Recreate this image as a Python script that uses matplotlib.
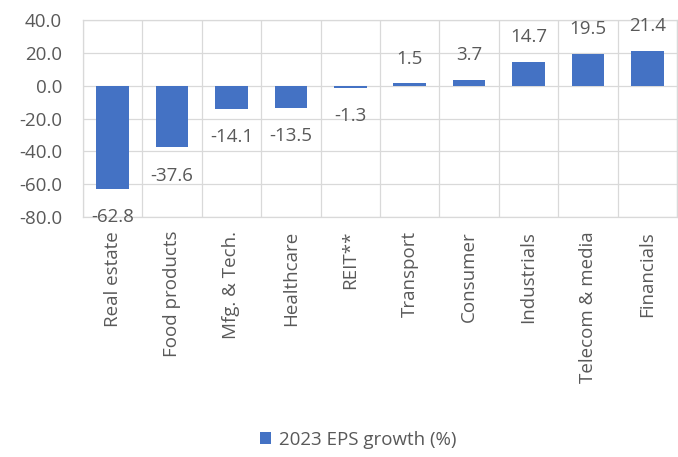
import matplotlib
matplotlib.use("Agg")
import matplotlib.pyplot as plt
import numpy as np

plt.rcParams["font.family"] = ["Open Sans", "DejaVu Sans"]

sectors = ["Real estate", "Food products", "Mfg. & Tech.", "Healthcare", "REIT**",
           "Transport", "Consumer", "Industrials", "Telecom & media", "Financials"]
eps_growth = [-62.8, -37.6, -14.1, -13.5, -1.3, 1.5, 3.7, 14.7, 19.5, 21.4]
y_ticks = [-80, -60, -40, -20, 0, 20, 40]
series_name = "2023 EPS growth (%)"

BLUE = "#4472C4"
GRID = "#D9D9D9"
TXT = "#595959"
FS = 13.5

fig = plt.figure(figsize=(6.78, 4.57), dpi=100)
ax = fig.add_axes([83 / 678, (457 - 217) / 457, 594 / 678, 197 / 457])

x = np.arange(len(sectors))
ax.bar(x, eps_growth, width=0.55, color=BLUE, zorder=3, label=series_name)

for xi, v in zip(x, eps_growth):
    if v < 0:
        ax.annotate(f"{v:.1f}", (xi, v), xytext=(0, -14), textcoords="offset points",
                    ha="center", va="top", fontsize=FS, color=TXT)
    else:
        ax.annotate(f"{v:.1f}", (xi, v), xytext=(0, 11), textcoords="offset points",
                    ha="center", va="bottom", fontsize=FS, color=TXT)

ax.set_xlim(-0.5, len(sectors) - 0.5)
ax.set_ylim(-80, 40)
ax.set_yticks(y_ticks)
ax.set_yticklabels([f"{t:.1f}" for t in y_ticks])
ax.set_xticks(x)
ax.set_xticklabels(sectors, rotation=90, va="top")
ax.set_xticks(np.arange(-0.5, len(sectors), 1), minor=True)
ax.tick_params(axis="both", which="both", length=0, colors=TXT, labelsize=FS)
ax.tick_params(axis="y", pad=15)
ax.tick_params(axis="x", pad=10)

ax.grid(axis="y", color=GRID, lw=0.9, zorder=0)
ax.grid(axis="x", which="minor", color=GRID, lw=0.9, zorder=0)
for s in ax.spines.values():
    s.set_color(GRID)
    s.set_linewidth(0.9)

fig.legend(loc="center", bbox_to_anchor=(358 / 678, 1 - 440 / 457), frameon=False,
           fontsize=FS, labelcolor=TXT, handlelength=0.6, handleheight=0.6,
           handletextpad=0.4)

fig.savefig("out.png", dpi=100)
